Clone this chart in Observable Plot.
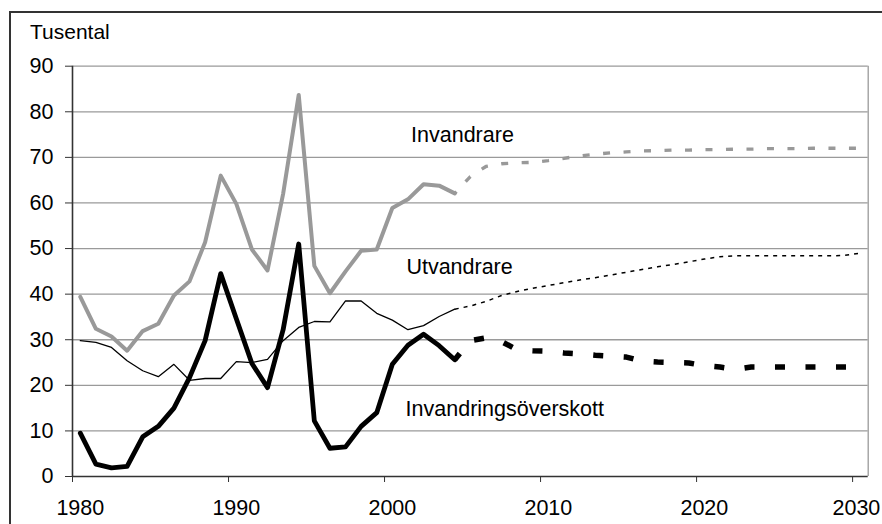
<!DOCTYPE html>
<html>
<head>
<meta charset="utf-8">
<script src="https://cdn.jsdelivr.net/npm/d3@7"></script>
<script src="https://cdn.jsdelivr.net/npm/@observablehq/plot@0.6"></script>
<style>
  html, body { margin: 0; padding: 0; background: #fff; overflow: hidden; }
  #wrap { position: relative; width: 882px; height: 524px; overflow: hidden; font-family: "Liberation Sans", Arial, sans-serif; }
  #border { position: absolute; left: 9px; top: 11px; width: 1000px; height: 1000px; border-top: 2px solid #333; border-left: 2px solid #333; }
  #unit { position: absolute; left: 30px; top: 21px; font-size: 21px; line-height: 21px; color: #000; }
  #chart { position: absolute; left: 0; top: 0; }
</style>
</head>
<body>
<div id="wrap">
  <div id="border"></div>
  <div id="chart"></div>
  <div id="unit">Tusental</div>
</div>
<script>
// Historical years 1980–2004
const histYears = d3.range(1980, 2005);
const invandrareHist = [39.4, 32.4, 30.7, 27.6, 31.9, 33.5, 39.7, 42.8, 51.4, 66.0, 59.8, 49.8, 45.2, 62.0, 83.7, 46.2, 40.2, 45.0, 49.5, 49.8, 58.9, 60.8, 64.1, 63.8, 62.1];
const utvandrareHist = [29.8, 29.4, 28.3, 25.4, 23.2, 21.9, 24.6, 21.1, 21.5, 21.5, 25.2, 25.0, 25.7, 29.8, 32.7, 34.0, 33.9, 38.5, 38.5, 35.8, 34.3, 32.2, 33.1, 35.1, 36.7];
const overskottHist = [9.5, 2.7, 1.9, 2.2, 8.7, 11.0, 15.0, 21.7, 29.8, 44.5, 34.6, 24.8, 19.5, 32.2, 51.0, 12.2, 6.2, 6.5, 11.0, 14.0, 24.6, 28.8, 31.2, 28.7, 25.6];

// Projection years 2004–2030
const projYears = d3.range(2004, 2031);
const invandrareProj = [62.1, 65.8, 68.0, 68.6, 68.8, 68.9, 69.3, 69.8, 70.3, 70.7, 71.0, 71.2, 71.4, 71.5, 71.6, 71.6, 71.7, 71.7, 71.8, 71.8, 71.9, 71.9, 71.9, 72.0, 72.0, 72.0, 72.0];
const utvandrareProj = [36.7, 37.4, 38.4, 39.7, 40.6, 41.3, 41.9, 42.5, 43.1, 43.6, 44.2, 44.8, 45.4, 46.0, 46.5, 47.1, 47.7, 48.2, 48.4, 48.4, 48.4, 48.4, 48.4, 48.4, 48.4, 48.5, 49.0];
const overskottProj = [25.6, 29.8, 30.4, 29.6, 27.8, 27.6, 27.5, 27.1, 26.9, 26.6, 26.4, 26.2, 25.3, 25.1, 25.0, 24.9, 24.3, 24.0, 23.5, 24.0, 24.0, 24.0, 24.0, 24.0, 24.0, 24.0, 24.0];

// Axis ticks
const yTicks = [0, 10, 20, 30, 40, 50, 60, 70, 80, 90];
const xLabelYears = [1980, 1990, 2000, 2010, 2020];
const xLastLabel = [2030];
const xBoundaryTicks = [1979.5, 1989.5, 1999.5, 2009.5, 2019.5, 2029.5];

// Series labels
const seriesLabels = ["Invandrare", "Utvandrare", "Invandringsöverskott"];

const toRows = (years, values) => years.map((year, i) => ({year, value: values[i]}));

const FS = 21.5;

const chart = Plot.plot({
  width: 882,
  height: 524,
  marginLeft: 72,
  marginRight: 14.3,
  marginTop: 65.7,
  marginBottom: 48,
  style: { fontFamily: "Liberation Sans, Arial, sans-serif", background: "transparent", color: "#000", overflow: "visible" },
  x: { type: "linear", domain: [1979.5, 2030.5], label: null },
  y: { domain: [0, 90], label: null },
  marks: [
    Plot.ruleY(yTicks.slice(1), { stroke: "#9a9a9a", strokeWidth: 1.3 }),
    Plot.ruleX([2030.5], { stroke: "#9a9a9a", strokeWidth: 1.3 }),
    Plot.ruleX([1979.5], { stroke: "#333", strokeWidth: 1.6 }),
    Plot.ruleY([0], { stroke: "#333", strokeWidth: 1.6 }),
    Plot.axisY({ ticks: yTicks, label: null, tickSize: 7, tickPadding: 12, fontSize: FS, stroke: "#333", fill: "#000", tickFormat: d => String(d) }),
    Plot.axisX({ ticks: xBoundaryTicks, label: null, tickSize: 6, stroke: "#333", tickFormat: () => "" }),
    Plot.axisX({ ticks: xLabelYears, label: null, tickSize: 0, tickPadding: 23.7, fontSize: FS, fill: "#000", tickFormat: d => String(d) }),
    Plot.axisX({ ticks: xLastLabel, label: null, tickSize: 0, tickPadding: 23.7, fontSize: FS, fill: "#000", dx: -4, tickFormat: d => String(d) }),

    // Invandrare (grey)
    Plot.line(toRows(histYears, invandrareHist), { x: "year", y: "value", stroke: "#999", strokeWidth: 4, strokeLinejoin: "round" }),
    Plot.line(toRows(projYears, invandrareProj), { x: "year", y: "value", stroke: "#999", strokeWidth: 3.3, strokeDasharray: "7,13.5", strokeDashoffset: 4.5, strokeLinecap: "butt" }),

    // Utvandrare (thin black)
    Plot.line(toRows(histYears, utvandrareHist), { x: "year", y: "value", stroke: "#000", strokeWidth: 1.3 }),
    Plot.line(toRows(projYears, utvandrareProj), { x: "year", y: "value", stroke: "#000", strokeWidth: 1.5, strokeDasharray: "4,5", strokeLinecap: "butt" }),

    // Invandringsöverskott (thick black)
    Plot.line(toRows(histYears, overskottHist), { x: "year", y: "value", stroke: "#000", strokeWidth: 4.8, strokeLinejoin: "round" }),
    Plot.line(toRows(projYears, overskottProj), { x: "year", y: "value", stroke: "#000", strokeWidth: 5.5, strokeDasharray: "10,20.5", strokeDashoffset: 2, strokeLinecap: "butt" }),

    // Labels
    Plot.text([seriesLabels[0]], { x: 2001.2, y: 74.8, text: d => d, textAnchor: "start", fontSize: FS, fill: "#000" }),
    Plot.text([seriesLabels[1]], { x: 2000.9, y: 46.0, text: d => d, textAnchor: "start", fontSize: FS, fill: "#000" }),
    Plot.text([seriesLabels[2]], { x: 2000.85, y: 14.7, text: d => d, textAnchor: "start", fontSize: FS, fill: "#000" })
  ]
});
document.getElementById("chart").appendChild(chart);
</script>
</body>
</html>
